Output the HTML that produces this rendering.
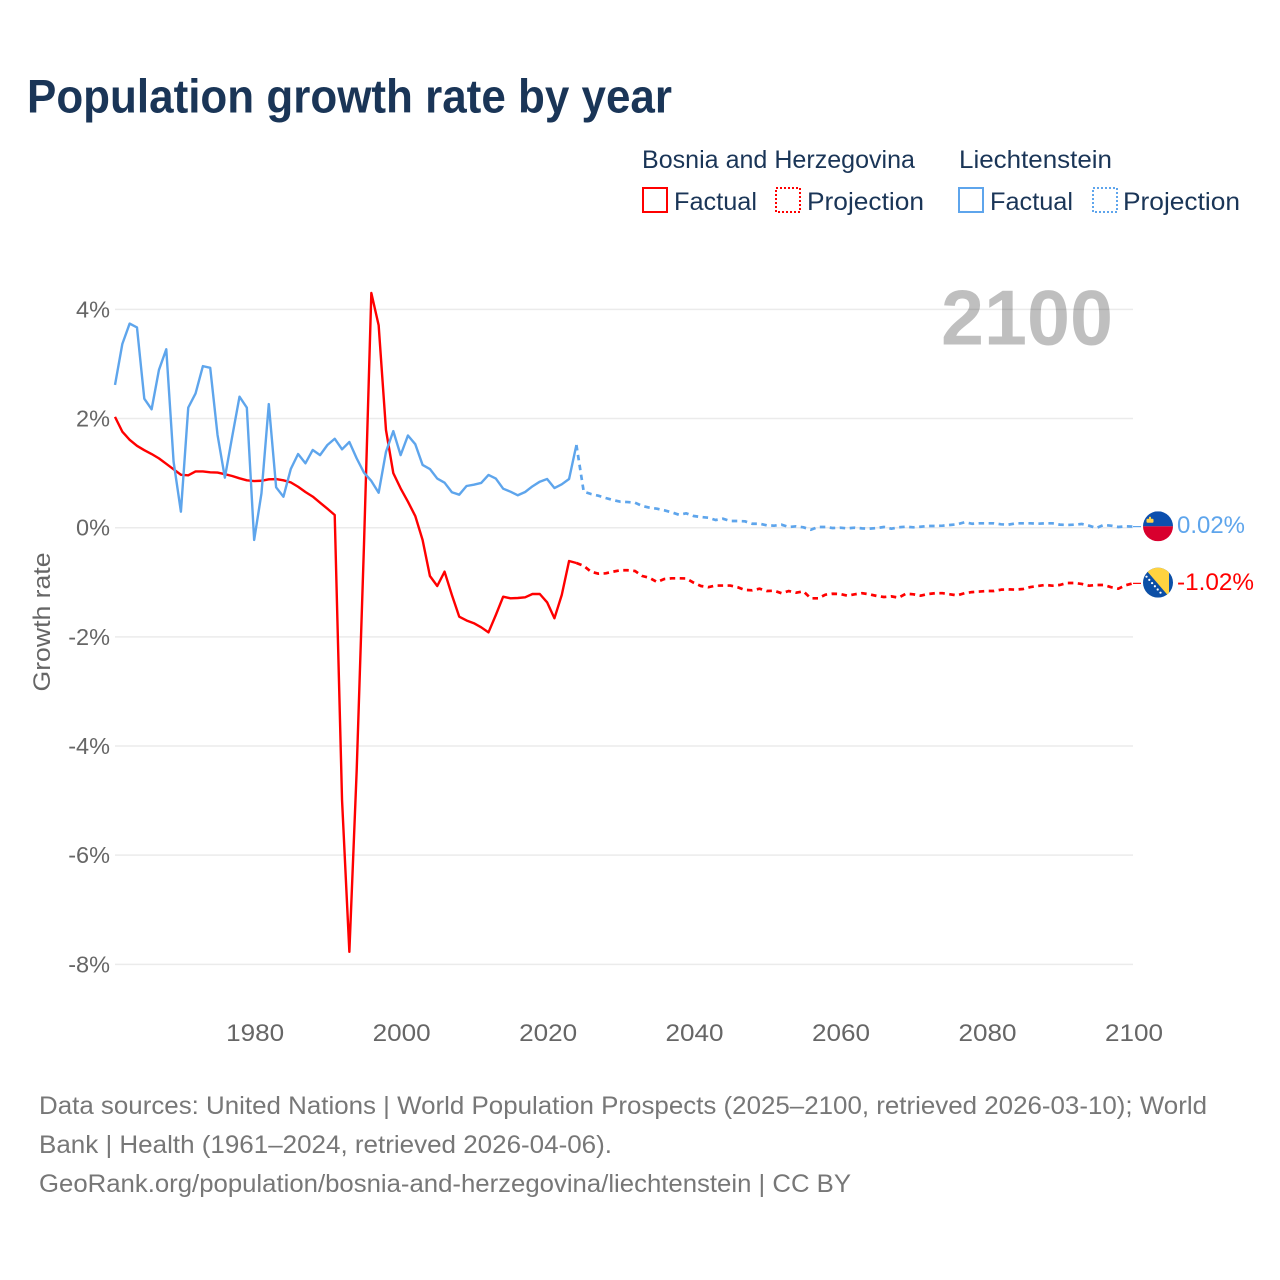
<!DOCTYPE html>
<html lang="en">
<head>
<meta charset="utf-8">
<title>Population growth rate by year</title>
<style>
  html, body { margin: 0; padding: 0; background: #ffffff; }
  svg { display: block; font-family: "Liberation Sans", sans-serif; }
</style>
</head>
<body>
<svg id="chart" xmlns="http://www.w3.org/2000/svg" width="1280" height="1280" viewBox="0 0 1280 1280">
  <defs>
    <clipPath id="flag-clip-li"><circle cx="0" cy="0" r="15"></circle></clipPath>
    <clipPath id="flag-clip-ba"><circle cx="0" cy="0" r="15"></circle></clipPath>
  </defs>
  <rect width="1280" height="1280" fill="#ffffff"></rect>

  <text x="27" y="112.3" font-size="47" font-weight="700" fill="#1a3557" textLength="645" lengthAdjust="spacingAndGlyphs">Population growth rate by year</text>

  <g>
    <text x="642" y="168" font-size="25" fill="#1a3557" textLength="273" lengthAdjust="spacingAndGlyphs">Bosnia and Herzegovina</text>
    <text x="959" y="168" font-size="25" fill="#1a3557" textLength="153" lengthAdjust="spacingAndGlyphs">Liechtenstein</text>

    <rect x="643" y="188" width="24" height="24" fill="none" stroke="#ff0000" stroke-width="2"></rect>
    <text x="674" y="210" font-size="25" fill="#1a3557" textLength="83" lengthAdjust="spacingAndGlyphs">Factual</text>
    <rect x="776" y="188" width="24" height="24" fill="none" stroke="#ff0000" stroke-width="2" stroke-dasharray="2 2"></rect>
    <text x="807" y="210" font-size="25" fill="#1a3557" textLength="117" lengthAdjust="spacingAndGlyphs">Projection</text>

    <rect x="959" y="188" width="24" height="24" fill="none" stroke="#5ea5ec" stroke-width="2"></rect>
    <text x="990" y="210" font-size="25" fill="#1a3557" textLength="83" lengthAdjust="spacingAndGlyphs">Factual</text>
    <rect x="1093" y="188" width="24" height="24" fill="none" stroke="#5ea5ec" stroke-width="2" stroke-dasharray="2 2"></rect>
    <text x="1123" y="210" font-size="25" fill="#1a3557" textLength="117" lengthAdjust="spacingAndGlyphs">Projection</text>
  </g>

  <g id="grid"></g>
  <g id="y-ticks"></g>
  <g id="x-ticks"></g>

  <text transform="translate(50 622) rotate(-90)" text-anchor="middle" font-size="24" fill="#666666" textLength="139" lengthAdjust="spacingAndGlyphs">Growth rate</text>

  <text x="941" y="344.5" font-size="78" font-weight="700" fill="#000000" fill-opacity="0.25" textLength="172" lengthAdjust="spacingAndGlyphs">2100</text>

  <g id="series"></g>

  <g id="flag-li">
    <g clip-path="url(#flag-clip-li)">
      <rect x="-15" y="-15" width="30" height="15" fill="#0c4fae"></rect>
      <rect x="-15" y="0" width="30" height="15" fill="#d8002e"></rect>
      <rect x="-11.5" y="-7.5" width="7" height="4" rx="1" fill="#ffd24a"></rect>
      <rect x="-9" y="-9.5" width="2" height="3" fill="#ffd24a"></rect>
    </g>
  </g>
  <g id="flag-ba">
    <g clip-path="url(#flag-clip-ba)">
      <rect x="-15" y="-15" width="30" height="30" fill="#0c4fa6"></rect>
      <polygon points="-14,-15 11,-15 11,14" fill="#ffd340"></polygon>
      <circle cx="-11.5" cy="-6" r="1.1" fill="#ffffff"></circle>
      <circle cx="-8.7" cy="-2.8" r="1.1" fill="#ffffff"></circle>
      <circle cx="-5.9" cy="0.4" r="1.1" fill="#ffffff"></circle>
      <circle cx="-3.1" cy="3.6" r="1.1" fill="#ffffff"></circle>
      <circle cx="-0.3" cy="6.8" r="1.1" fill="#ffffff"></circle>
      <circle cx="2.5" cy="10" r="1.1" fill="#ffffff"></circle>
    </g>
  </g>
  <text id="label-li" font-size="24" fill="#5ea5ec" textLength="68" lengthAdjust="spacingAndGlyphs"></text>
  <text id="label-ba" font-size="24" fill="#ff0000" textLength="77" lengthAdjust="spacingAndGlyphs"></text>

  <g font-size="25" fill="#777777">
    <text x="39" y="1114" textLength="1168" lengthAdjust="spacingAndGlyphs">Data sources: United Nations | World Population Prospects (2025–2100, retrieved 2026-03-10); World</text>
    <text x="39" y="1153" textLength="573" lengthAdjust="spacingAndGlyphs">Bank | Health (1961–2024, retrieved 2026-04-06).</text>
    <text x="39" y="1192" textLength="812" lengthAdjust="spacingAndGlyphs">GeoRank.org/population/bosnia-and-herzegovina/liechtenstein | CC BY</text>
  </g>
</svg>

<script>
const yTickValues = [4, 2, 0, -2, -4, -6, -8];
const yTickLabels = ["4%", "2%", "0%", "-2%", "-4%", "-6%", "-8%"];
const xTickValues = [1980, 2000, 2020, 2040, 2060, 2080, 2100];
const xTickLabels = ["1980", "2000", "2020", "2040", "2060", "2080", "2100"];

const factualStartYear = 1961;
const projectionStartYear = 2024;

const bosniaFactual = [
  2.03, 1.76, 1.61, 1.50, 1.42, 1.35, 1.27, 1.17, 1.07, 0.97,
  0.96, 1.03, 1.03, 1.015, 1.01, 0.98, 0.947, 0.905, 0.868, 0.855,
  0.86, 0.886, 0.89, 0.868, 0.83, 0.75, 0.654, 0.57, 0.458, 0.348,
  0.233, -4.99, -7.77, -4.45, -0.3, 4.30, 3.71, 1.79, 1.0, 0.72,
  0.476, 0.214, -0.225, -0.885, -1.068, -0.806, -1.233, -1.63, -1.70, -1.75,
  -1.825, -1.917, -1.60, -1.264, -1.294, -1.288, -1.276, -1.215, -1.215, -1.367,
  -1.66, -1.233, -0.61, -0.647
];
const bosniaProjection = [
  -0.647, -0.70, -0.806, -0.842, -0.836, -0.806, -0.78, -0.78, -0.793, -0.885,
  -0.92, -0.995, -0.94, -0.927, -0.927, -0.93, -1.007, -1.068, -1.09, -1.06,
  -1.06, -1.06, -1.09, -1.14, -1.147, -1.117, -1.16, -1.154, -1.20, -1.16,
  -1.19, -1.165, -1.294, -1.294, -1.227, -1.21, -1.215, -1.245, -1.22, -1.20,
  -1.22, -1.25, -1.27, -1.258, -1.282, -1.21, -1.22, -1.245, -1.215, -1.20,
  -1.20, -1.22, -1.24, -1.20, -1.18, -1.17, -1.16, -1.16, -1.135, -1.13,
  -1.135, -1.123, -1.087, -1.068, -1.05, -1.062, -1.05, -1.013, -1.013, -1.03,
  -1.062, -1.05, -1.05, -1.09, -1.117, -1.055, -1.02
];
const liechtensteinFactual = [
  2.615, 3.366, 3.74, 3.67, 2.364, 2.17, 2.89, 3.27, 1.21, 0.293,
  2.2, 2.46, 2.96, 2.93, 1.70, 0.916, 1.667, 2.40, 2.2, -0.225,
  0.63, 2.266, 0.74, 0.568, 1.075, 1.35, 1.18, 1.424, 1.33, 1.515,
  1.63, 1.436, 1.57, 1.27, 1.008, 0.856, 0.64, 1.39, 1.77, 1.33,
  1.69, 1.53, 1.15, 1.075, 0.90, 0.825, 0.65, 0.605, 0.764, 0.788,
  0.82, 0.966, 0.90, 0.715, 0.66, 0.594, 0.654, 0.758, 0.843, 0.892,
  0.727, 0.795, 0.892, 1.515
];
const liechtensteinProjection = [
  1.515, 0.66, 0.617, 0.586, 0.544, 0.507, 0.476, 0.47, 0.458, 0.398,
  0.366, 0.348, 0.319, 0.282, 0.238, 0.263, 0.214, 0.196, 0.183, 0.141,
  0.165, 0.123, 0.123, 0.117, 0.073, 0.073, 0.044, 0.037, 0.055, 0.013,
  0.025, 0.007, -0.037, 0.013, 0.013, -0.006, 0, -0.012, 0, -0.012,
  -0.018, -0.006, 0.013, -0.018, 0.007, 0.018, 0.007, 0.018, 0.031, 0.031,
  0.037, 0.05, 0.062, 0.099, 0.073, 0.08, 0.08, 0.08, 0.062, 0.056,
  0.08, 0.08, 0.08, 0.073, 0.08, 0.08, 0.056, 0.05, 0.056, 0.068,
  0.037, -0.006, 0.05, 0.037, 0.013, 0.025, 0.02
];

const SVG_NS = "http://www.w3.org/2000/svg";
const plotLeft = 115;
const plotRight = 1133;

function xScale(year) {
  return plotLeft + (year - 1961) * (plotRight - plotLeft) / (2100 - 1961);
}
function yScale(value) {
  return 527.7 - value * 54.58;
}
function linePoints(values, startYear) {
  return values.map(function (v, i) {
    return xScale(startYear + i).toFixed(2) + "," + yScale(v).toFixed(2);
  }).join(" ");
}
function formatPct(value) {
  return value.toFixed(2) + "%";
}

const gridGroup = document.getElementById("grid");
const yTickGroup = document.getElementById("y-ticks");
const xTickGroup = document.getElementById("x-ticks");
const seriesGroup = document.getElementById("series");

yTickValues.forEach(function (value, i) {
  const line = document.createElementNS(SVG_NS, "line");
  
  
  line.setAttribute("x1", plotLeft);
  line.setAttribute("x2", plotRight);
  line.setAttribute("y1", yScale(value));
  line.setAttribute("y2", yScale(value));
  line.setAttribute("stroke", "#ebebeb");
  line.setAttribute("stroke-width", "1.5");
  gridGroup.appendChild(line);

  const label = document.createElementNS(SVG_NS, "text");
  
  
  label.setAttribute("x", 110);
  label.setAttribute("y", yScale(value) + 8);
  label.setAttribute("text-anchor", "end");
  label.setAttribute("font-size", "23.5");
  label.setAttribute("fill", "#666666");
  label.textContent = yTickLabels[i];
  yTickGroup.appendChild(label);
});

xTickValues.forEach(function (year, i) {
  const label = document.createElementNS(SVG_NS, "text");
  
  
  label.setAttribute("x", xScale(year) + 1);
  label.setAttribute("y", 1041);
  label.setAttribute("text-anchor", "middle");
  label.setAttribute("font-size", "24");
  label.setAttribute("fill", "#666666");
  label.setAttribute("textLength", "58");
  label.setAttribute("lengthAdjust", "spacingAndGlyphs");
  label.textContent = xTickLabels[i];
  xTickGroup.appendChild(label);
});

function styleLine(el, color) {
  el.setAttribute("fill", "none");
  el.setAttribute("stroke", color);
  el.setAttribute("stroke-width", "2.4");
  el.setAttribute("stroke-linejoin", "round");
  seriesGroup.appendChild(el);
}

const bosniaFactualLine = document.createElementNS(SVG_NS, "polyline");


bosniaFactualLine.setAttribute("points", linePoints(bosniaFactual, factualStartYear));
styleLine(bosniaFactualLine, "#ff0000");

const bosniaProjectionLine = document.createElementNS(SVG_NS, "polyline");


bosniaProjectionLine.setAttribute("points", linePoints(bosniaProjection, projectionStartYear));
bosniaProjectionLine.setAttribute("stroke-dasharray", "5.5 4.5");
styleLine(bosniaProjectionLine, "#ff0000");
bosniaProjectionLine.setAttribute("stroke-width", "2.7");

const liechtensteinFactualLine = document.createElementNS(SVG_NS, "polyline");


liechtensteinFactualLine.setAttribute("points", linePoints(liechtensteinFactual, factualStartYear));
styleLine(liechtensteinFactualLine, "#5ea5ec");

const liechtensteinProjectionLine = document.createElementNS(SVG_NS, "polyline");


liechtensteinProjectionLine.setAttribute("points", linePoints(liechtensteinProjection, projectionStartYear));
liechtensteinProjectionLine.setAttribute("stroke-dasharray", "5.5 4.5");
styleLine(liechtensteinProjectionLine, "#5ea5ec");
liechtensteinProjectionLine.setAttribute("stroke-width", "2.7");

const lastBosnia = bosniaProjection[bosniaProjection.length - 1];
const lastLiechtenstein = liechtensteinProjection[liechtensteinProjection.length - 1];

const bosniaConnector = document.createElementNS(SVG_NS, "line");


bosniaConnector.setAttribute("x1", xScale(2100));
bosniaConnector.setAttribute("x2", xScale(2100) + 8);
bosniaConnector.setAttribute("y1", yScale(lastBosnia));
bosniaConnector.setAttribute("y2", yScale(lastBosnia));
bosniaConnector.setAttribute("stroke", "#ff0000");
bosniaConnector.setAttribute("stroke-width", "1.2");
seriesGroup.appendChild(bosniaConnector);

const liechtensteinConnector = document.createElementNS(SVG_NS, "line");


liechtensteinConnector.setAttribute("x1", xScale(2100));
liechtensteinConnector.setAttribute("x2", xScale(2100) + 8);
liechtensteinConnector.setAttribute("y1", yScale(lastLiechtenstein));
liechtensteinConnector.setAttribute("y2", yScale(lastLiechtenstein));
liechtensteinConnector.setAttribute("stroke", "#5ea5ec");
liechtensteinConnector.setAttribute("stroke-width", "1.2");
seriesGroup.appendChild(liechtensteinConnector);

document.getElementById("flag-li").setAttribute("transform", "translate(1158 " + (yScale(lastLiechtenstein) - 0.3) + ")");
document.getElementById("flag-ba").setAttribute("transform", "translate(1158 " + (yScale(lastBosnia) - 0.7) + ")");

const labelLi = document.getElementById("label-li");
labelLi.setAttribute("x", 1177);
labelLi.setAttribute("y", yScale(lastLiechtenstein) + 6.5);
labelLi.textContent = formatPct(lastLiechtenstein);

const labelBa = document.getElementById("label-ba");
labelBa.setAttribute("x", 1177);
labelBa.setAttribute("y", yScale(lastBosnia) + 6.5);
labelBa.textContent = formatPct(lastBosnia);
</script>
</body>
</html>
